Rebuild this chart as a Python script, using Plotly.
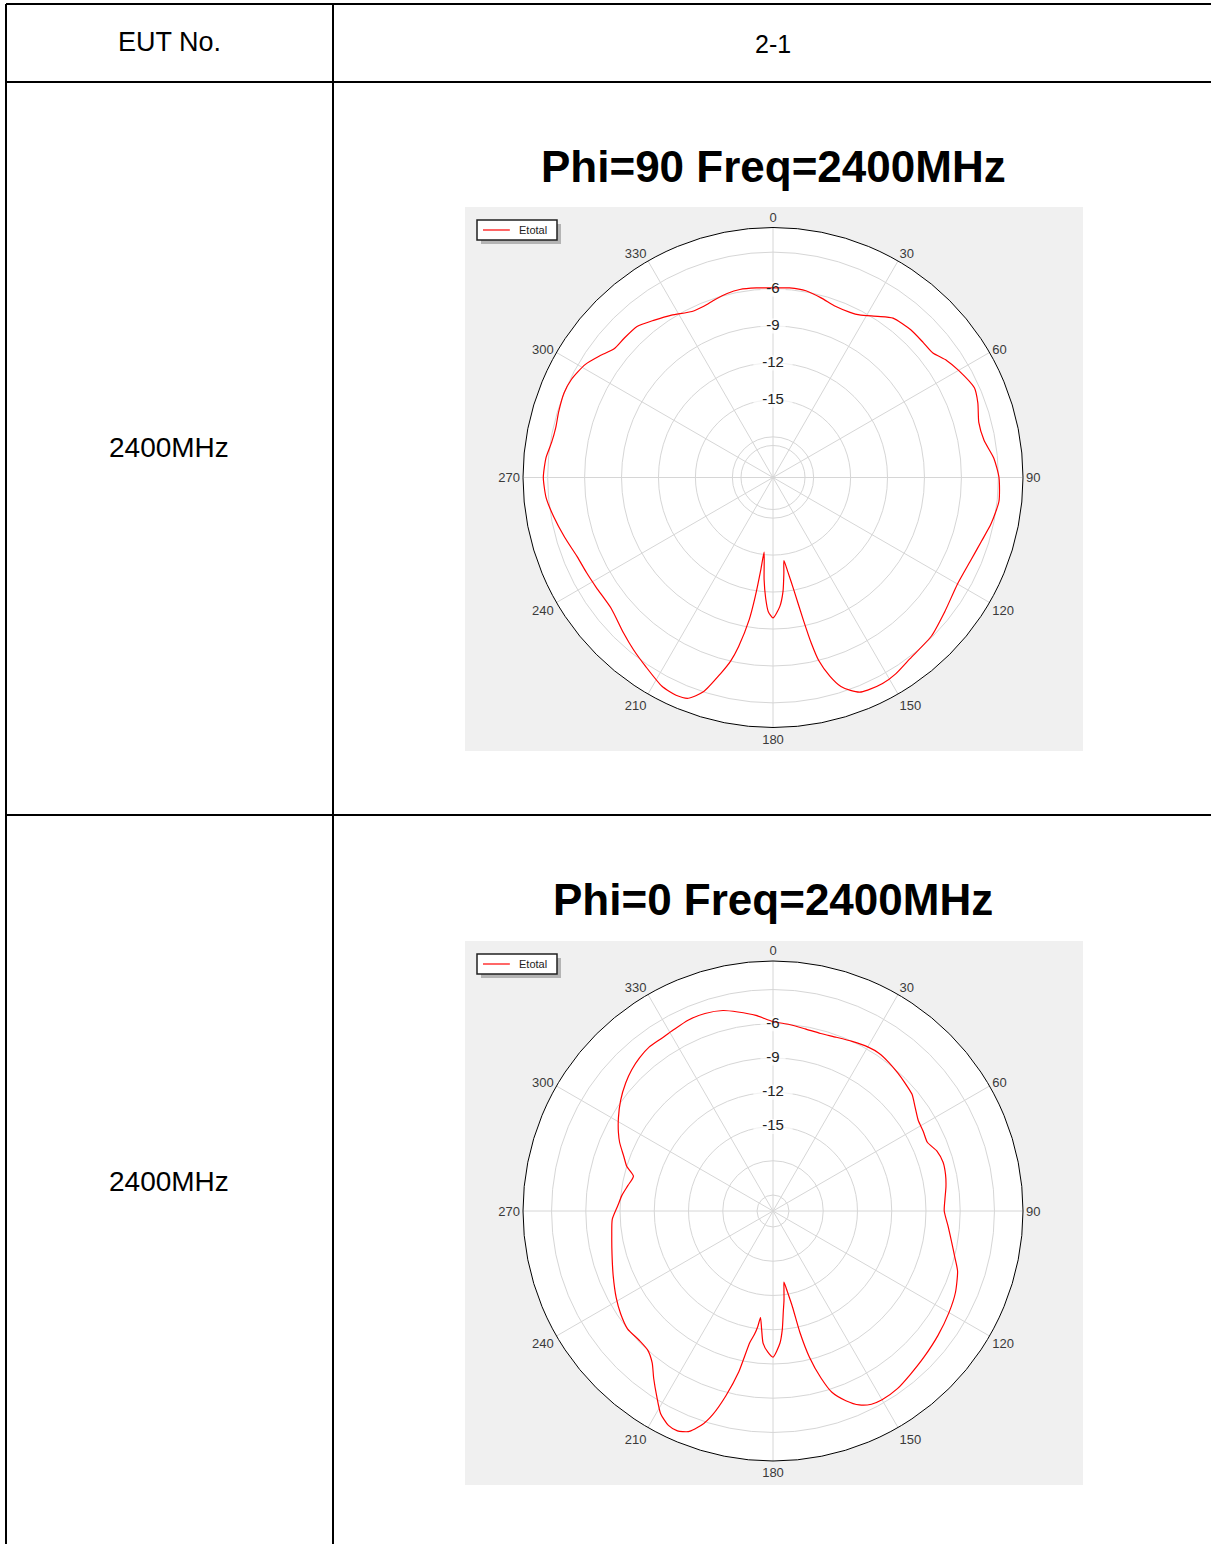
import plotly.graph_objects as go

# ---------------- data ----------------
theta_phi90 = [0, 5, 10, 15, 20, 25, 28, 33, 37, 43, 48, 52, 56, 60, 66, 70, 75, 80, 85, 90,
               96, 102, 107, 113, 120, 128, 135, 143, 148, 152, 156, 158, 160, 162, 164, 166,
               167, 168, 169.5, 171, 172.5, 173.5, 175, 177, 180, 182, 183.5, 185, 186.8,
               187.5, 188.5, 189.5, 191.5, 193, 195, 198, 201, 204, 208, 214, 219, 224, 231,
               238, 243, 248, 254, 260, 265, 270, 275, 279, 283, 287, 292, 296, 301, 305, 309,
               313, 318, 323, 328, 334, 338, 342, 346, 350, 355, 360]
etotal_phi90 = [-5.9, -5.85, -5.9, -6.2, -6.5, -6.5, -6.35, -5.7, -5.1, -4.9, -4.9, -4.85, -4.3,
                -3.9, -3.4, -3.6, -4.0, -3.9, -3.3, -2.95, -2.85, -3.2, -3.6, -3.9, -4.0, -3.6,
                -3.1, -2.85, -2.5, -2.35, -2.4, -2.5, -2.9, -3.45, -4.5, -6.0, -7.5, -9.5, -12.0,
                -13.5, -14.5, -13.5, -12.0, -10.8, -9.9, -10.4, -11.5, -13.0, -15.2, -13.8, -11.5,
                -9.6, -7.3, -6.0, -4.8, -3.0, -2.1, -1.95, -2.1, -2.8, -3.3, -3.8, -4.4, -4.4,
                -4.3, -4.15, -3.7, -3.2, -2.8, -2.65, -2.8, -3.1, -3.2, -3.1, -3.0, -3.1, -3.5,
                -4.1, -4.7, -4.75, -4.8, -5.3, -5.75, -6.3, -6.3, -6.1, -5.9, -5.8, -5.85, -5.9]

theta_phi0 = [0, 5, 10, 15, 20, 25, 30, 34, 38, 42, 46, 50, 54, 58, 62, 66, 70, 74, 78, 82, 86,
              90, 95, 100, 104, 108, 114, 120, 127, 134, 140, 145, 150, 153, 156, 159, 162, 164,
              166, 167.5, 168.5, 170, 171.2, 172, 173, 174.1, 175.5, 177, 180, 182, 184.3,
              185.5, 186.7, 187.5, 188.5, 190, 192, 194.3, 196.5, 198.5, 201, 203.5, 206, 209,
              212, 215.5, 218.5, 222, 226, 231, 236, 241, 248, 255, 261, 267, 272, 276, 280,
              284, 287, 290, 294, 297, 301, 306, 311, 315, 319, 323, 327, 331, 336, 341, 346,
              350, 355, 360]
etotal_phi0 = [-5.8, -6.0, -6.2, -6.3, -6.2, -6.0, -5.8, -5.75, -5.9, -6.1, -6.3, -6.5, -7.0,
               -7.4, -7.5, -7.6, -7.1, -6.9, -6.95, -7.1, -7.3, -7.4, -7.0, -6.5, -6.0, -5.4,
               -4.9, -4.6, -4.3, -4.0, -3.7, -3.4, -3.3, -3.4, -3.8, -4.6, -5.7, -7.2, -9.2,
               -11.5, -13.8, -15.3, -16.1, -15.5, -14.5, -13.6, -12.0, -10.8, -9.6, -10.0, -10.8,
               -12.0, -13.0, -12.2, -11.5, -10.7, -8.0, -5.7, -3.8, -2.6, -1.7, -1.4, -1.5, -2.1,
               -3.2, -4.4, -5.4, -6.0, -6.1, -6.0, -6.3, -6.7, -7.3, -7.8, -8.1, -8.3, -8.8, -9.1,
               -9.5, -9.8, -9.0, -8.5, -7.7, -7.2, -6.6, -5.9, -5.3, -4.9, -4.6, -4.4, -4.4, -4.3,
               -4.1, -4.1, -4.3, -4.7, -5.2, -5.8]

angle_ticks = [0, 30, 60, 90, 120, 150, 180, 210, 240, 270, 300, 330]
radial_labels = [-6, -9, -12, -15]
ring_phi90 = [-18.7, -18, -15, -12, -9, -6, -3]
ring_phi0 = [-21, -18, -15, -12, -9, -6, -3]
range_phi90 = [-21.3, -1.0]
range_phi0 = [-22.4, -0.5]

titles = ["Phi=90 Freq=2400MHz", "Phi=0 Freq=2400MHz"]
row_label = "2400MHz"
header = ["EUT No.", "2-1"]
series_name = "Etotal"

# ---------------- layout helpers ----------------
W, H = 1211, 1544
FONT = "Liberation Sans, Arial, sans-serif"


def px_x(x):
    return x / W


def px_y(y):
    return 1 - y / H


fig = go.Figure()

panels = [
    dict(polar="polar", theta=theta_phi90, r=etotal_phi90,
         rings=ring_phi90, rng=range_phi90, cy=477.5, rad=250, top=207, title_y=167),
    dict(polar="polar2", theta=theta_phi0, r=etotal_phi0,
         rings=ring_phi0, rng=range_phi0, cy=1211, rad=250, top=941, title_y=900),
]
cx = 773

layout_extra = {}
shapes = []
annotations = []

for i, p in enumerate(panels):
    # white gaps behind the radial labels
    fig.add_trace(go.Scatterpolar(
        theta=[0] * len(radial_labels), r=radial_labels, mode="markers",
        marker=dict(symbol="line-ew", size=[18, 18, 28, 28],
                    line=dict(color="white", width=15)),
        subplot=p["polar"], showlegend=False, hoverinfo="skip"))
    # the measured curve
    fig.add_trace(go.Scatterpolar(
        theta=p["theta"], r=p["r"], mode="lines", name=series_name,
        line=dict(color="#ff0000", width=1.2, shape="spline", smoothing=0.6),
        subplot=p["polar"], showlegend=False))
    # radial labels
    fig.add_trace(go.Scatterpolar(
        theta=[0] * len(radial_labels), r=radial_labels, mode="text",
        text=[str(v) for v in radial_labels],
        textfont=dict(family=FONT, size=15, color="#222222"),
        subplot=p["polar"], showlegend=False, hoverinfo="skip"))

    x0, x1 = cx - p["rad"], cx + p["rad"]
    y0, y1 = p["cy"] - p["rad"], p["cy"] + p["rad"]
    layout_extra[p["polar"]] = dict(
        domain=dict(x=[px_x(x0), px_x(x1)], y=[px_y(y1), px_y(y0)]),
        bgcolor="white",
        angularaxis=dict(rotation=90, direction="clockwise", tickmode="array",
                         tickvals=angle_ticks, ticktext=[str(a) for a in angle_ticks],
                         tickfont=dict(family=FONT, size=13, color="#3a3a3a"),
                         showline=True, linecolor="#000000", linewidth=1,
                         gridcolor="#d6d6d6", gridwidth=1, ticks="", layer="below traces"),
        radialaxis=dict(range=p["rng"], tickmode="array", tickvals=p["rings"],
                        showticklabels=False, ticks="", showline=False,
                        gridcolor="#d6d6d6", gridwidth=1, angle=90, layer="below traces"),
    )
    top = p["top"]
    # grey chart panel
    shapes.append(dict(type="rect", xref="paper", yref="paper",
                       x0=px_x(465), x1=px_x(1083), y0=px_y(top + 544), y1=px_y(top),
                       fillcolor="#f0f0f0", line=dict(width=0), layer="below"))
    # legend: shadow, box, line sample, label
    shapes.append(dict(type="rect", xref="paper", yref="paper",
                       x0=px_x(481), x1=px_x(561), y0=px_y(top + 37), y1=px_y(top + 17),
                       fillcolor="#b4b4b4", line=dict(width=0), layer="above"))
    shapes.append(dict(type="rect", xref="paper", yref="paper",
                       x0=px_x(477), x1=px_x(557), y0=px_y(top + 33), y1=px_y(top + 13),
                       fillcolor="white", line=dict(color="#202020", width=1.5),
                       layer="above"))
    shapes.append(dict(type="line", xref="paper", yref="paper",
                       x0=px_x(483), x1=px_x(510), y0=px_y(top + 23), y1=px_y(top + 23),
                       line=dict(color="#ff0000", width=1.2), layer="above"))
    annotations.append(dict(text=series_name, xref="paper", yref="paper",
                            x=px_x(517), y=px_y(top + 23), xanchor="left",
                            yanchor="middle", showarrow=False,
                            font=dict(family=FONT, size=11, color="#222222")))
    # chart title
    annotations.append(dict(text="<b>%s</b>" % titles[i], xref="paper", yref="paper",
                            x=px_x(cx), y=px_y(p["title_y"]), xanchor="center",
                            yanchor="middle", showarrow=False,
                            font=dict(family=FONT, size=44, color="#000000")))

# table grid
line_style = dict(color="#000000", width=2)
for (xa, ya, xb, yb) in [(6, 4, W, 4), (6, 82, W, 82), (6, 815, W, 815),
                         (6, 4, 6, H), (333, 4, 333, H)]:
    shapes.append(dict(type="line", xref="paper", yref="paper",
                       x0=px_x(xa), y0=px_y(ya), x1=px_x(xb), y1=px_y(yb),
                       line=line_style, layer="above"))

# table texts
for txt, x, y, size in [(header[0], 169, 42, 27), (header[1], 773, 44, 25),
                        (row_label, 169, 448, 28), (row_label, 169, 1181, 28)]:
    annotations.append(dict(text=txt, xref="paper", yref="paper", x=px_x(x), y=px_y(y),
                            xanchor="center", yanchor="middle", showarrow=False,
                            font=dict(family=FONT, size=size, color="#000000")))

fig.update_layout(
    width=W, height=H, margin=dict(l=0, r=0, t=0, b=0),
    paper_bgcolor="white", plot_bgcolor="white",
    shapes=shapes, annotations=annotations, showlegend=False,
    **layout_extra)

fig.write_html("out.html", config={"displayModeBar": False},
               post_script="document.body.style.margin='0';document.body.style.padding='0';")
